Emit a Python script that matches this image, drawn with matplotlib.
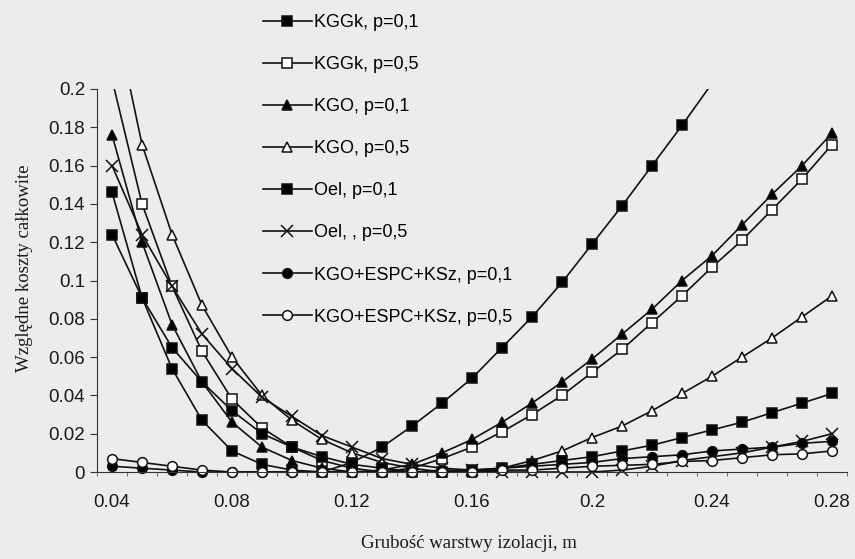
import numpy as np
import matplotlib.pyplot as plt

plt.rcParams['font.family'] = 'Liberation Sans'

nan = np.nan
thickness = [0.04, 0.05, 0.06, 0.07, 0.08, 0.09, 0.10, 0.11, 0.12, 0.13, 0.14, 0.15, 0.16,
             0.17, 0.18, 0.19, 0.20, 0.21, 0.22, 0.23, 0.24, 0.25, 0.26, 0.27, 0.28]

kggk_01 = [0.124, 0.091, 0.054, 0.027, 0.011, 0.004, 0.001, 0.000, 0.005, 0.013, 0.024, 0.036, 0.049,
           0.065, 0.081, 0.099, 0.119, 0.139, 0.160, 0.181, 0.203, nan, nan, nan, nan]
kggk_05 = [0.205, 0.140, 0.097, 0.063, 0.038, 0.023, 0.013, 0.006, 0.002, 0.000, 0.002, 0.007, 0.013,
           0.021, 0.030, 0.040, 0.052, 0.064, 0.078, 0.092, 0.107, 0.121, 0.137, 0.153, 0.171]
kgo_01 = [0.176, 0.120, 0.077, 0.047, 0.026, 0.013, 0.006, 0.002, 0.000, 0.001, 0.004, 0.010, 0.017,
          0.026, 0.036, 0.047, 0.059, 0.072, 0.085, 0.100, 0.113, 0.129, 0.145, 0.160, 0.177]
kgo_05 = [0.245, 0.171, 0.124, 0.087, 0.060, 0.040, 0.027, 0.017, 0.010, 0.005, 0.002, 0.000, 0.000,
          0.002, 0.006, 0.011, 0.018, 0.024, 0.032, 0.041, 0.050, 0.060, 0.070, 0.081, 0.092]
oel_01 = [0.146, 0.091, 0.065, 0.047, 0.032, 0.020, 0.013, 0.008, 0.004, 0.002, 0.000, 0.000, 0.001,
          0.002, 0.004, 0.006, 0.008, 0.011, 0.014, 0.018, 0.022, 0.026, 0.031, 0.036, 0.041]
oel_05 = [0.160, 0.124, 0.097, 0.072, 0.054, 0.039, 0.029, 0.019, 0.013, 0.007, 0.004, 0.002, 0.001,
          0.000, 0.000, 0.000, 0.000, 0.001, 0.003, 0.006, 0.008, 0.010, 0.013, 0.016, 0.020]
espc_01 = [0.003, 0.002, 0.001, 0.000, 0.000, 0.000, 0.000, 0.000, 0.000, 0.000, 0.000, 0.001, 0.001,
           0.002, 0.003, 0.004, 0.005, 0.007, 0.008, 0.009, 0.011, 0.012, 0.013, 0.015, 0.016]
espc_05 = [0.007, 0.005, 0.003, 0.001, 0.000, 0.000, 0.000, 0.000, 0.000, 0.000, 0.000, 0.000, 0.000,
           0.001, 0.001, 0.002, 0.003, 0.0035, 0.004, 0.0055, 0.006, 0.0075, 0.009, 0.0095, 0.011]

series = [
    (kggk_01, 'KGGk, p=0,1', 's', 'k'),
    (kggk_05, 'KGGk, p=0,5', 's', 'w'),
    (kgo_01, 'KGO, p=0,1', '^', 'k'),
    (kgo_05, 'KGO, p=0,5', '^', 'w'),
    (oel_01, 'Oel, p=0,1', 's', 'k'),
    (oel_05, 'Oel, , p=0,5', 'x', 'k'),
    (espc_01, 'KGO+ESPC+KSz, p=0,1', 'o', 'k'),
    (espc_05, 'KGO+ESPC+KSz, p=0,5', 'o', 'w'),
]

bg = '#ececec'
fig = plt.figure(figsize=(8.55, 5.59), dpi=100, facecolor=bg)
ax = fig.add_axes([0.1135, 0.1419, 0.8772, 0.6989])
ax.set_facecolor(bg)

sizes = {'s': 6.5, '^': 7, 'o': 7, 'x': 8}
for vals, name, mk, fc in series:
    ax.plot(thickness, vals, color='#111111', lw=1.2, marker=mk, ms=sizes[mk],
            mfc=fc, mec='#111111', mew=1.1, label=name)

ax.set_xlim(0.035, 0.285)
ax.set_ylim(-0.004, 0.2)
for s in ['top', 'right']:
    ax.spines[s].set_visible(False)
ax.spines['bottom'].set_position(('data', 0))
ax.spines['left'].set_bounds(0, 0.2)
ax.spines['left'].set_color('#333333')
ax.spines['bottom'].set_color('#333333')

yt = [0, 0.02, 0.04, 0.06, 0.08, 0.1, 0.12, 0.14, 0.16, 0.18, 0.2]
ax.set_yticks(yt)
ax.set_yticklabels(['0' if v == 0 else f'{v:g}' for v in yt])
xt = [0.04, 0.08, 0.12, 0.16, 0.2, 0.24, 0.28]
ax.set_xticks(xt)
ax.set_xticklabels([f'{v:g}' for v in xt])
ax.set_xticks([0.035 + 0.01 * i for i in range(26)], minor=True)
ax.tick_params(axis='y', labelsize=13.5, length=5, color='#333333', colors='#1a1a1a')
ax.tick_params(axis='x', which='major', labelsize=13.5, length=0, pad=16, colors='#1a1a1a')
ax.tick_params(axis='x', which='minor', length=3, color='#555555')

fig.text(0.029, 0.52, 'Względne koszty całkowite', rotation=90, ha='center', va='center',
         family='Liberation Serif', fontsize=13.5, color='#1a1a1a')
fig.text(0.549, 0.027, 'Grubość warstwy izolacji, m', ha='center', va='center',
         family='Liberation Serif', fontsize=13.5, color='#1a1a1a')

fig.legend(loc='upper left', bbox_to_anchor=(263 / 855, 1 - 14 / 559), frameon=False,
           fontsize=13, handlelength=2.7, handletextpad=0.1, labelspacing=1.39,
           borderpad=0, borderaxespad=0)

fig.savefig('out.png', dpi=100, facecolor=bg)
